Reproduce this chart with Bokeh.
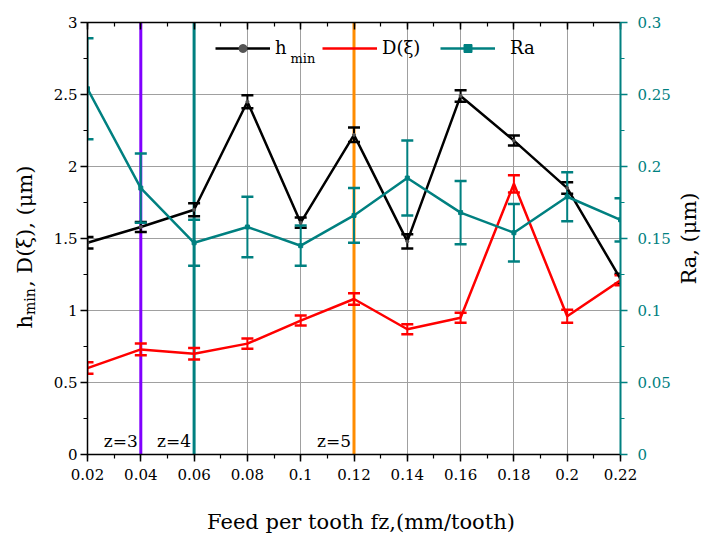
import numpy as np
from bokeh.plotting import figure
from bokeh.models import (Range1d, LinearAxis, FixedTicker, Whisker, TeeHead, Span,
                          Label, Legend, LegendItem, ColumnDataSource)
from bokeh.core.properties import value
from bokeh.embed import file_html
from bokeh.resources import INLINE

# ---------------- data ----------------
feed = [0.02, 0.04, 0.06, 0.08, 0.10, 0.12, 0.14, 0.16, 0.18, 0.20, 0.22]
hmin = [1.47, 1.58, 1.70, 2.45, 1.61, 2.22, 1.48, 2.49, 2.18, 1.85, 1.22]
hmin_err = [0.04, 0.035, 0.045, 0.045, 0.035, 0.05, 0.05, 0.04, 0.035, 0.04, 0.035]
D = [0.60, 0.73, 0.70, 0.77, 0.93, 1.08, 0.87, 0.95, 1.88, 0.96, 1.21]
D_err = [0.04, 0.04, 0.04, 0.035, 0.035, 0.04, 0.035, 0.035, 0.06, 0.045, 0.035]
Ra = [0.254, 0.185, 0.147, 0.158, 0.145, 0.166, 0.192, 0.168, 0.154, 0.179, 0.163]
Ra_err = [0.035, 0.024, 0.016, 0.021, 0.014, 0.019, 0.026, 0.022, 0.020, 0.017, 0.015]

z_feed = [0.04, 0.06, 0.12]
z_labels = ["z=3", "z=4", "z=5"]

x_ticks = [0.02, 0.04, 0.06, 0.08, 0.10, 0.12, 0.14, 0.16, 0.18, 0.20, 0.22]
x_tick_labels = ["0.02", "0.04", "0.06", "0.08", "0.1", "0.12", "0.14", "0.16", "0.18", "0.2", "0.22"]
y_ticks = [0, 0.5, 1, 1.5, 2, 2.5, 3]
y_tick_labels = ["0", "0.5", "1", "1.5", "2", "2.5", "3"]
ra_ticks = [0, 0.05, 0.1, 0.15, 0.2, 0.25, 0.3]
ra_tick_labels = ["0", "0.05", "0.1", "0.15", "0.2", "0.25", "0.3"]

# ---------------- styles ----------------
BLACK, RED, TEAL = "#000000", "#ff0000", "#008080"
z_colors = ["#8000ff", TEAL, "#ff8c00"]
FONT = "DejaVu Serif"
TICK_FS = "15px"
TITLE_FS = "21px"

def minor_between(ticks, n=2):
    out = []
    for a, b in zip(ticks[:-1], ticks[1:]):
        out += list(np.linspace(a, b, n + 1)[:-1])
    out.append(ticks[-1])
    return [float(v) for v in out]

p = figure(width=705, height=535, x_range=Range1d(0.02, 0.22), y_range=Range1d(0, 3),
           output_backend="svg", toolbar_location=None,
           min_border_left=87, min_border_right=85, min_border_top=22, min_border_bottom=81)
p.outline_line_color = None
p.background_fill_color = "white"
p.extra_y_ranges = {"ra": Range1d(0, 0.3)}

def style_axis(ax, color, ticks, labels, minor, show_labels=True, inward=False):
    ax.ticker = FixedTicker(ticks=ticks, minor_ticks=minor)
    if show_labels:
        ax.major_label_overrides = {t: l for t, l in zip(ticks, labels)}
    else:
        ax.major_label_overrides = {t: "" for t in ticks}
    ax.axis_line_color = color
    ax.major_tick_line_color = color
    ax.minor_tick_line_color = color
    ax.axis_line_width = 1.5
    ax.major_tick_line_width = 1.5
    ax.minor_tick_line_width = 1.2
    if inward:
        ax.major_tick_in, ax.major_tick_out = 7, 0
        ax.minor_tick_in, ax.minor_tick_out = 4, 0
    else:
        ax.major_tick_in, ax.major_tick_out = 0, 7
        ax.minor_tick_in, ax.minor_tick_out = 0, 4
    ax.major_label_text_font = FONT
    ax.major_label_text_font_size = TICK_FS
    ax.major_label_text_color = color
    ax.axis_label = None

xax = p.xaxis[0]
style_axis(xax, BLACK, x_ticks, x_tick_labels, minor_between(x_ticks))
xax.major_label_standoff = 7
yax = p.yaxis[0]
style_axis(yax, BLACK, y_ticks, y_tick_labels, minor_between(y_ticks))
yax.major_label_standoff = 3

rax = LinearAxis(y_range_name="ra")
style_axis(rax, TEAL, ra_ticks, ra_tick_labels, minor_between(ra_ticks))
rax.axis_line_width = 2
rax.major_label_standoff = 10
p.add_layout(rax, "right")

tax = LinearAxis()
style_axis(tax, BLACK, x_ticks, x_tick_labels, minor_between(x_ticks), show_labels=False, inward=True)
tax.major_label_standoff = 0
p.add_layout(tax, "above")

for g in (p.xgrid[0], p.ygrid[0]):
    g.grid_line_color = "#a0a0a0"
    g.grid_line_width = 1

# vertical z lines
for zf, zc, zl in zip(z_feed, z_colors, z_labels):
    p.add_layout(Span(location=zf, dimension="height", line_color=zc, line_width=3, level="underlay"))
    p.add_layout(Label(x=zf, y=0, text=zl, text_align="right", text_baseline="bottom",
                       x_offset=-3, y_offset=4, text_font=FONT, text_font_size="17px",
                       text_color="black"))

# data lines
lh = p.line(feed, hmin, line_color=BLACK, line_width=2.5)
sh = p.scatter(feed, hmin, marker="circle", size=3, color="#555555")
ld = p.line(feed, D, line_color=RED, line_width=2.5)
lr = p.line(feed, Ra, line_color=TEAL, line_width=2.5, y_range_name="ra")
sr = p.scatter(feed, Ra, marker="square", size=4, color=TEAL, y_range_name="ra")

def add_err(xs, ys, es, color, yr="default"):
    src = ColumnDataSource(dict(x=xs, upper=[y + e for y, e in zip(ys, es)],
                                lower=[y - e for y, e in zip(ys, es)]))
    w = Whisker(source=src, base="x", upper="upper", lower="lower", dimension="height",
                line_color=color, line_width=2, y_range_name=yr,
                upper_head=TeeHead(size=12, line_color=color, line_width=2.5),
                lower_head=TeeHead(size=12, line_color=color, line_width=2.5))
    p.add_layout(w)

add_err(feed, hmin, hmin_err, BLACK)
add_err(feed, D, D_err, RED)
add_err(feed, Ra, Ra_err, TEAL, "ra")

# legends (three single-item legends placed along the top)
def make_legend(label, rends, loc, standoff=5):
    lg = Legend(items=[LegendItem(label=value(label), renderers=rends)], location=loc,
                orientation="horizontal", label_text_font=FONT, label_text_font_size="18px",
                label_text_color="black",
                glyph_width=55, glyph_height=20, label_height=20, label_standoff=standoff,
                padding=0, margin=0, spacing=0, border_line_alpha=0, background_fill_alpha=0)
    p.add_layout(lg)

make_legend("h", [lh, sh], (128, 396))
make_legend("D(ξ)", [ld], (235, 396))
make_legend("Ra", [lr, sr], (353, 396), standoff=15)
p.add_layout(Label(x=203, y=396, x_units="screen", y_units="screen", text="min",
                   text_font=FONT, text_font_size="13px", text_baseline="alphabetic",
                   text_color="black"))

# axis titles (placed in the side panels so they are not clipped to the frame)
ang = np.pi / 2
h_y0 = 126
title_kw = dict(text_font=FONT, text_baseline="alphabetic", text_color="black")
p.add_layout(Label(x=0.02, y=0, x_offset=-63, y_offset=h_y0, text="h", angle=ang,
                   text_font_size=TITLE_FS, text_align="left", **title_kw), "left")
p.add_layout(Label(x=0.02, y=0, x_offset=-63, y_offset=h_y0 + 13.5 + 28, text=", D(ξ), (μm)",
                   angle=ang, text_font_size=TITLE_FS, text_align="left", **title_kw), "left")
p.add_layout(Label(x=0.02, y=0, x_offset=-58, y_offset=h_y0 + 13.5, text="min", angle=ang,
                   text_font_size="14px", text_align="left", **title_kw), "below")
p.add_layout(Label(x=0.22, y=1.5, x_offset=68, text="Ra, (μm)", angle=ang,
                   text_font_size=TITLE_FS, text_align="center", **title_kw), "right")
p.add_layout(Label(x=0.12, y=0, x_offset=7, y_offset=-67, text="Feed per tooth fz,(mm/tooth)",
                   text_font_size=TITLE_FS, text_align="center", **title_kw), "below")

open("out.html", "w").write(file_html(p, INLINE))
